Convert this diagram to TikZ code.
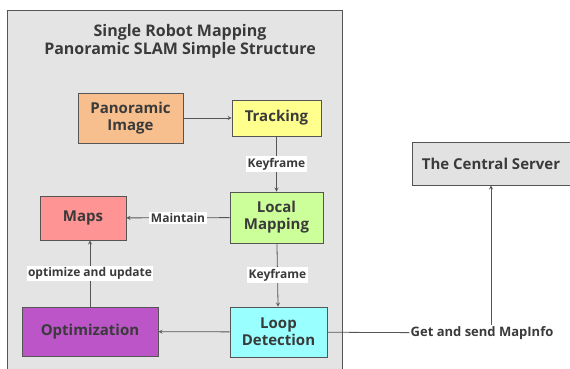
\documentclass[tikz,border=0pt]{standalone}
\usepackage{fontspec}
\setmainfont{Open Sans}
\usetikzlibrary{positioning}

\definecolor{txt}{HTML}{3A3A3A}
\definecolor{edgegray}{HTML}{555555}
\definecolor{panelgray}{HTML}{E4E4E4}
\definecolor{imgorange}{HTML}{F8BF8E}
\definecolor{trackyellow}{HTML}{FFFF8E}
\definecolor{mapgreen}{HTML}{CCFF99}
\definecolor{mapsred}{HTML}{FF9494}
\definecolor{loopcyan}{HTML}{99FFFF}
\definecolor{optpurple}{HTML}{BB55C8}
\definecolor{servergray}{HTML}{E2E2E2}

\tikzset{
  box/.style={draw=edgegray, line width=0.8pt, align=center,
    font=\fontsize{15}{17}\selectfont\bfseries, text=txt},
  lbl/.style={fill=white, inner sep=1.5pt,
    font=\fontsize{12}{14}\selectfont\bfseries, text=txt},
}

\begin{document}
\begin{tikzpicture}[x=1pt, y=-1pt, >=stealth, line width=0.8pt]
\useasboundingbox (0,0) rectangle (570,369);
% grey panel of the single robot
\fill[panelgray, draw=edgegray] (7,10) rectangle (342,375);
\node[font=\fontsize{16}{18}\selectfont\bfseries, text=txt, align=center]
  (title) at (180,41) {Single Robot Mapping\\Panoramic SLAM Simple Structure};

\node[box, fill=imgorange, minimum width=105pt, minimum height=50pt]
  (img) at (130.5,118) {Panoramic\\Image};
\node[box, fill=trackyellow, minimum width=89pt, minimum height=36pt]
  (track) at (276.5,118) {Tracking};
\node[box, fill=mapgreen, minimum width=93pt, minimum height=51pt]
  (local) at (276.5,217.5) {Local\\Mapping};
\node[box, fill=mapsred, minimum width=86pt, minimum height=44pt]
  (maps) at (83,218) {Maps};
\node[box, fill=loopcyan, minimum width=97pt, minimum height=50pt]
  (loop) at (278.5,332) {Loop\\Detection};
\node[box, fill=optpurple, minimum width=136pt, minimum height=49pt]
  (opt) at (90,331.5) {Optimization};
\node[box, fill=servergray, minimum width=158pt, minimum height=43pt]
  (server) at (491,163.5) {The Central Server};
\node[font=\fontsize{13}{15}\selectfont\bfseries, text=txt, inner sep=1pt]
  (info) at (482,333) {Get and send MapInfo};

\draw[->, edgegray] (img) -- (track);
\draw[->, edgegray] (track) -- node[lbl] {Keyframe} (local);
\draw[->, edgegray] (local) -- node[lbl] {Maintain} (maps);
\draw[->, edgegray] (local) -- node[lbl] {Keyframe} (loop);
\draw[->, edgegray] (loop) -- (opt);
\draw[->, edgegray] (opt.north) -- node[lbl] {optimize and update} (opt.north |- maps.south);
\draw[edgegray] (loop) -- (info);
\draw[->, edgegray] (info.north -| server) -- (server);
\end{tikzpicture}
\end{document}
